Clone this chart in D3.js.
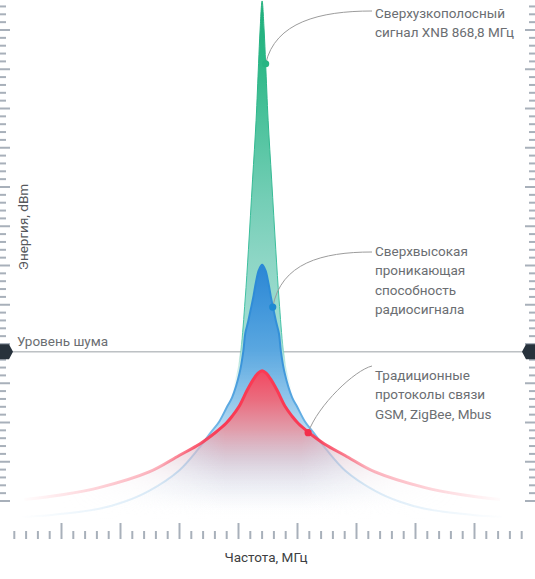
<!DOCTYPE html>
<html>
<head>
<meta charset="utf-8">
<script src="https://cdn.jsdelivr.net/npm/d3@7"></script>
<style>
  body { margin: 0; background: #fff; }
  svg { display: block; font-family: Roboto, "Open Sans", sans-serif; }
</style>
</head>
<body>
<svg id="chart"></svg>
<script>
const width = 535;
const height = 579;

// --- Data (frequency in MHz, energy in dBm) ---
const xnbSignal = [
  [866.681, -142.2], [867.105, -141.4], [867.783, -138.6], [868.207, -134.8],
  [868.461, -129.7], [868.571, -124.6], [868.619, -120.8], [868.656, -114.4],
  [868.684, -108.0], [868.719, -99.1], [868.749, -91.5], [868.770, -84.3],
  [868.783, -80.0], [868.800, -76.3], [868.817, -80.0], [868.830, -84.3],
  [868.851, -91.5], [868.881, -99.1], [868.916, -108.0], [868.944, -114.4],
  [868.981, -120.8], [869.029, -124.6], [869.139, -129.7], [869.393, -134.8],
  [869.817, -138.6], [870.495, -141.4], [870.919, -142.2]
];

const penetrationSignal = [
  [866.766, -142.0], [866.995, -141.8], [867.419, -141.0], [867.631, -140.1],
  [867.842, -138.7], [868.097, -136.1], [868.258, -133.4], [868.364, -131.3],
  [868.436, -129.9], [868.503, -128.0], [868.546, -126.8], [868.609, -123.7],
  [868.641, -120.9], [868.658, -118.6], [868.681, -117.2], [868.708, -115.3],
  [868.728, -113.8], [868.747, -112.2], [868.772, -110.6], [868.800, -109.9],
  [868.828, -110.6], [868.853, -112.2], [868.872, -113.8], [868.892, -115.3],
  [868.919, -117.2], [868.942, -118.6], [868.959, -120.9], [868.991, -123.7],
  [869.054, -126.8], [869.097, -128.0], [869.164, -129.9], [869.236, -131.3],
  [869.342, -133.4], [869.503, -136.1], [869.758, -138.7], [869.969, -140.1],
  [870.181, -141.0], [870.605, -141.8], [870.834, -142.0]
];

const legacySignal = [
  [866.783, -139.8], [867.105, -139.2], [867.419, -138.3], [867.842, -136.3],
  [868.097, -134.2], [868.275, -132.7], [868.402, -131.3], [868.495, -130.1],
  [868.546, -129.2], [868.603, -128.0], [868.673, -125.9], [868.722, -124.6],
  [868.766, -123.7], [868.800, -123.4], [868.834, -123.7], [868.878, -124.6],
  [868.927, -125.9], [868.997, -128.0], [869.054, -129.2], [869.105, -130.1],
  [869.198, -131.3], [869.325, -132.7], [869.503, -134.2], [869.758, -136.3],
  [870.181, -138.3], [870.495, -139.2], [870.817, -139.8]
];

const noiseLevel = -121;

// annotation points on the curves
const markerFreq = [868.83, 868.89, 869.19];
const markerDbm = [-84.3, -115.3, -131.3];
const markerLabels = [
  ["Сверхузкополосный", "сигнал XNB 868,8 МГц"],
  ["Сверхвысокая", "проникающая", "способность", "радиосигнала"],
  ["Традиционные", "протоколы связи", "GSM, ZigBee, Mbus"]
];

const freqTicks = d3.range(8667, 8711).map(v => v / 10);
const energyTicks = d3.range(-140, -76);

const xLabel = "Частота, МГц";
const yLabel = "Энергия, dBm";
const noiseLabel = "Уровень шума";

// --- Scales ---
const x = d3.scaleLinear().domain([866.7, 871.0]).range([14.3, 521.7]);
const y = d3.scaleLinear().domain([-140, -77]).range([501, 6.45]);

const svg = d3.select("#chart")
  .attr("width", width)
  .attr("height", height)
  .attr("viewBox", [0, 0, width, height]);

const defs = svg.append("defs");

// vertical gradient helper (stops given as [px, color, opacity])
function vGradient(id, stops) {
  const g = defs.append("linearGradient")
    .attr("id", id)
    .attr("gradientUnits", "userSpaceOnUse")
    .attr("x1", 0).attr("x2", 0)
    .attr("y1", 0).attr("y2", height);
  stops.forEach(([py, color, op]) => {
    g.append("stop")
      .attr("offset", py / height)
      .attr("stop-color", color)
      .attr("stop-opacity", op);
  });
}

vGradient("greenFill", [
  [0, "#1fae7a", 1], [60, "#2cb886", 1], [120, "#4cc29c", 1],
  [200, "#74ceb6", 1], [260, "#8dd6c5", 1], [350, "#a6dfd6", 1],
  [372, "#b4e4dc", 0.6], [400, "#ffffff", 0]
]);
vGradient("greenStroke", [
  [0, "#22b07e", 1], [330, "#44c2a6", 1], [365, "#44c2a6", 0], [579, "#44c2a6", 0]
]);
vGradient("blueFill", [
  [262, "#2a85d3", 1], [300, "#3d94da", 1], [350, "#5aa7e0", 1],
  [400, "#8cc4ea", 0.95], [450, "#bddcf2", 0.75], [490, "#e0eef9", 0.35],
  [520, "#ffffff", 0]
]);
vGradient("blueStroke", [
  [262, "#2a88d6", 1], [360, "#3893d9", 1], [430, "#6fb5e6", 1], [500, "#9fcdee", 1]
]);
vGradient("redFill", [
  [368, "#f3455e", 1], [400, "#ea6d7f", 1], [430, "#e19dab", 1],
  [460, "#dcc1cd", 0.7], [490, "#e5dfe8", 0.3], [520, "#ffffff", 0]
]);

// horizontal fades toward the tails
function hMask(id, stops) {
  const g = defs.append("linearGradient")
    .attr("id", id + "Grad")
    .attr("gradientUnits", "userSpaceOnUse")
    .attr("x1", 0).attr("x2", width)
    .attr("y1", 0).attr("y2", 0);
  stops.forEach(([px, op]) => {
    g.append("stop")
      .attr("offset", px / width)
      .attr("stop-color", "#fff")
      .attr("stop-opacity", op);
  });
  defs.append("mask")
    .attr("id", id)
    .attr("maskUnits", "userSpaceOnUse")
    .attr("x", 0).attr("y", 0).attr("width", width).attr("height", height)
    .append("rect")
    .attr("width", width)
    .attr("height", height)
    .attr("fill", `url(#${id}Grad)`);
}

hMask("strokeMask", [[20, 0], [60, 0.12], [110, 0.26], [160, 0.4], [195, 0.8], [220, 1],
  [306, 1], [331, 0.8], [366, 0.4], [416, 0.26], [466, 0.12], [506, 0]]);
hMask("fillMask", [[60, 0], [130, 0.22], [190, 0.65], [225, 1],
  [301, 1], [336, 0.65], [396, 0.22], [466, 0]]);

// --- Axis ticks ---
const tickColor = "#a8b0ba";
const gTicks = svg.append("g").attr("stroke", tickColor).attr("stroke-width", 2);

gTicks.selectAll(".ytick-left")
  .data(energyTicks)
  .join("line")
  .attr("x1", 0)
  .attr("x2", d => d % 5 === 0 ? 10 : 6)
  .attr("y1", d => y(d))
  .attr("y2", d => y(d));

gTicks.selectAll(".ytick-right")
  .data(energyTicks)
  .join("line")
  .attr("x1", width)
  .attr("x2", d => d % 5 === 0 ? width - 10 : width - 6)
  .attr("y1", d => y(d))
  .attr("y2", d => y(d));

gTicks.selectAll(".xtick")
  .data(freqTicks)
  .join("line")
  .attr("x1", d => x(d))
  .attr("x2", d => x(d))
  .attr("y1", d => Math.round(d * 10) % 5 === 1 ? 523 : 531)
  .attr("y2", 539);

// --- Noise level ---
svg.append("line")
  .attr("x1", 12)
  .attr("x2", width - 12)
  .attr("y1", y(noiseLevel))
  .attr("y2", y(noiseLevel))
  .attr("stroke", "#9aa0a6")
  .attr("stroke-width", 1);

// --- Curves ---
const curve = d3.curveCatmullRom.alpha(0.5);
const line = d3.line().x(d => x(d[0])).y(d => y(d[1])).curve(curve);
const area = d3.area().x(d => x(d[0])).y0(y(-143)).y1(d => y(d[1])).curve(curve);

const series = [
  { data: xnbSignal, fill: "url(#greenFill)", stroke: "url(#greenStroke)", w: 1 },
  { data: penetrationSignal, fill: "url(#blueFill)", stroke: "url(#blueStroke)", w: 2 },
  { data: legacySignal, fill: "url(#redFill)", stroke: "#fa3a54", w: 3 }
];

series.forEach(s => {
  svg.append("path")
    .datum(s.data)
    .attr("mask", "url(#fillMask)")
    .attr("d", area)
    .attr("fill", s.fill);
  svg.append("path")
    .datum(s.data)
    .attr("mask", "url(#strokeMask)")
    .attr("d", line)
    .attr("fill", "none")
    .attr("stroke", s.stroke)
    .attr("stroke-width", s.w)
    .attr("stroke-linejoin", "round");
});

// --- Noise markers ---
const ny = y(noiseLevel);
svg.append("path")
  .attr("d", `M0,${ny - 7.5} L9,${ny - 7.5} L13,${ny} L9,${ny + 7.5} L0,${ny + 7.5} Z`)
  .attr("fill", "#27323c");
svg.append("path")
  .attr("d", `M${width},${ny - 7.5} L${width - 9},${ny - 7.5} L${width - 13},${ny} L${width - 9},${ny + 7.5} L${width},${ny + 7.5} Z`)
  .attr("fill", "#27323c");

svg.append("text")
  .attr("x", 17)
  .attr("y", ny - 6)
  .attr("font-size", 13.5)
  .attr("fill", "#6b6e72")
  .text(noiseLabel);

// --- Annotations ---
const markerColors = ["#27b583", "#1e88d2", "#f42f4b"];
const labelX = 375;
const labelTop = [18, 256, 380];
const lineStep = 19.3;
// leader line start and control points (px)
const leaders = [
  { sx: 372, sy: 11, c1: [320, 11], c2: [275, 22] },
  { sx: 372, sy: 252, c1: [322, 252], c2: [281, 263] },
  { sx: 372, sy: 366, c1: [355, 370], c2: [318, 405] }
];

const gAnno = svg.append("g");
markerFreq.forEach((f, i) => {
  const px = x(f), py = y(markerDbm[i]);
  const l = leaders[i];
  gAnno.append("path")
    .attr("d", `M${l.sx},${l.sy} C${l.c1[0]},${l.c1[1]} ${l.c2[0]},${l.c2[1]} ${px},${py}`)
    .attr("fill", "none")
    .attr("stroke", "#9c9c9c")
    .attr("stroke-width", 1);
  gAnno.append("circle")
    .attr("cx", px)
    .attr("cy", py)
    .attr("r", 3.6)
    .attr("fill", markerColors[i]);
  const t = gAnno.append("text")
    .attr("font-size", 13.5)
    .attr("fill", "#6b6e72");
  markerLabels[i].forEach((s, j) => {
    t.append("tspan")
      .attr("x", labelX)
      .attr("y", labelTop[i] + j * lineStep)
      .text(s);
  });
});

// --- Axis labels ---
svg.append("text")
  .attr("x", 266)
  .attr("y", 562)
  .attr("text-anchor", "middle")
  .attr("font-size", 13.5)
  .attr("fill", "#3d3f42")
  .text(xLabel);

svg.append("text")
  .attr("transform", "translate(28,227) rotate(-90)")
  .attr("text-anchor", "middle")
  .attr("font-size", 13.5)
  .attr("fill", "#55585c")
  .text(yLabel);
</script>
</body>
</html>
